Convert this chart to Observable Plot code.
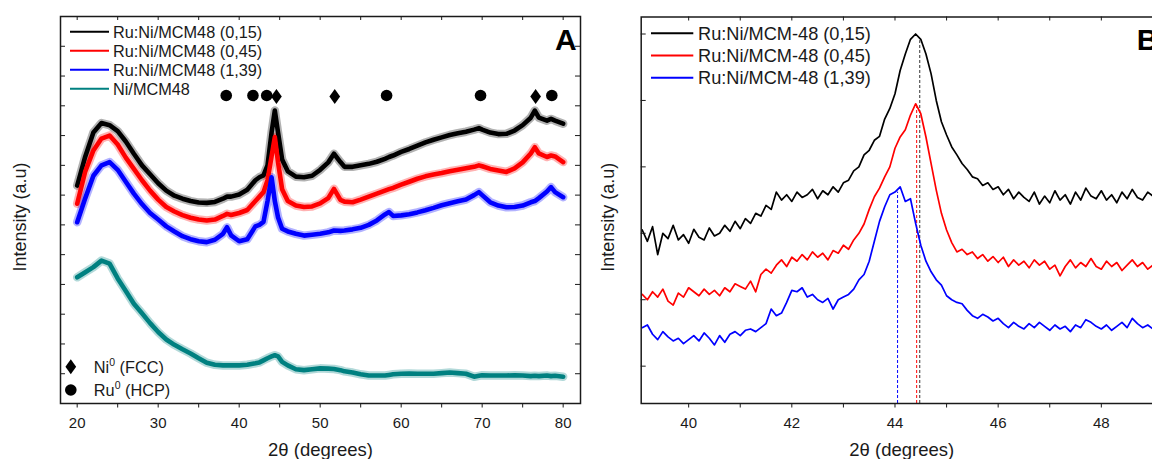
<!DOCTYPE html>
<html><head><meta charset="utf-8">
<script src="https://cdn.jsdelivr.net/npm/d3@7"></script>
<script src="https://cdn.jsdelivr.net/npm/@observablehq/plot@0.6"></script>
<style>
html,body{margin:0;padding:0;background:#fff;overflow:hidden;width:1152px;height:459px;}
#wrap{position:relative;width:1152px;height:459px;overflow:hidden;font-family:Arial,"Liberation Sans",sans-serif;}
.panel{position:absolute;top:0;width:600px;height:459px;}
.panel svg{max-width:none !important;width:600px !important;height:459px !important;}
#overlay{position:absolute;left:0;top:0;pointer-events:none;}
</style>
</head><body>
<div id="wrap"><div id="pa" class="panel" style="left:0"></div><div id="pb" class="panel" style="left:600px"></div></div>
<script>
// ---------- Panel A data (2θ in degrees, intensity in a.u.) ----------
const thetaA = [20,21,22,23,24,25,26,27,28,29,30,31,32,33,34,35,36,37,38,38.5,39,40,41,42,42.5,43,43.5,44,44.4,44.8,45.3,46,47,48,49,50,51,51.7,52.5,53,54,55,56,57,58,58.5,59,60,61,62,63,64,65,66,67,68,69,69.6,70,71,72,73,74,75,76,76.5,77,78,78.5,79,80];
const ruNi015A = [732,830,910,942,935,915,880,839,800,770,740,715,698,688,680,675,674,677,688,695,695,702,718,750,760,766,800,910,984,910,820,780,762,760,765,785,810,839,811,795,795,800,805,812,822,828,833,845,855,866,877,886,894,902,908,913,920,925,920,910,905,906,917,935,960,984,960,950,956,950,940];
const ruNi045A = [671,780,850,890,900,870,826,788,750,715,685,660,645,633,624,618,615,618,630,637,633,640,650,680,695,710,750,830,895,810,720,680,665,660,662,672,690,721,684,678,676,685,695,705,715,720,724,735,745,755,763,769,774,780,785,790,795,800,797,788,783,778,790,810,840,861,840,828,833,830,811];
const ruNi139A = [609,690,765,800,811,785,745,705,670,640,618,595,578,562,552,545,542,550,570,592,565,545,552,595,600,610,680,760,680,625,587,578,570,564,567,570,575,581,580,581,585,590,600,615,635,643,630,632,636,642,649,657,666,673,679,685,700,710,700,676,665,659,660,665,676,680,690,712,727,710,693];
const niA = [424,441,458,480,470,420,378,335,303,270,240,215,197,182,168,152,137,130,128,128,128,128,130,135,138,145,152,158,162,158,140,128,115,112,115,118,117,116,112,108,104,98,94,94,94,96,98,100,101,100,100,100,102,104,102,100,90,93,95,94,94,94,95,94,92,93,92,94,92,93,90];
const seriesNamesA = ["Ru:Ni/MCM48 (0,15)","Ru:Ni/MCM48 (0,45)","Ru:Ni/MCM48 (1,39)","Ni/MCM48"];
const ruPeaksA = [38.4,41.7,43.4,58.2,69.8,78.6];   // Ru0 (HCP)
const niPeaksA = [44.6,51.8,76.6];                   // Ni0 (FCC)
const xMajorA = [20,30,40,50,60,70,80];
const xMinorA = [25,35,45,55,65,75];
const yTicksA = [100,200,300,400,500,600,700,800,900,1000,1100,1200];

// ---------- Panel B data ----------
const thetaB = [39.1,39.2,39.3,39.4,39.5,39.6,39.7,39.8,39.9,40.0,
40.1,40.2,40.3,40.4,40.5,40.6,40.7,40.8,40.9,41.0,
41.1,41.2,41.3,41.4,41.5,41.6,41.7,41.8,41.9,42.0,
42.1,42.2,42.3,42.4,42.5,42.6,42.7,42.8,42.9,43.0,
43.1,43.2,43.3,43.4,43.5,43.6,43.7,43.8,43.9,44.0,
44.1,44.2,44.3,44.4,44.5,44.6,44.7,44.8,44.9,45.0,
45.1,45.2,45.3,45.4,45.5,45.6,45.7,45.8,45.9,46.0,
46.1,46.2,46.3,46.4,46.5,46.6,46.7,46.8,46.9,47.0,
47.1,47.2,47.3,47.4,47.5,47.6,47.7,47.8,47.9,48.0,
48.1,48.2,48.3,48.4,48.5,48.6,48.7,48.8,48.9,49.0,
49.1,49.2];
const ruNi015B = [205,188,210,168,200,192,212,190,198,185,
206,194,190,208,196,200,212,203,218,207,
222,215,230,226,242,236,262,250,258,248,
262,254,258,266,252,264,258,270,262,276,
280,294,300,318,325,340,346,372,388,410,
445,470,492,500,492,470,440,400,368,348,
330,318,305,296,285,282,272,276,266,270,
258,266,252,262,254,248,262,244,256,246,
264,250,258,244,262,250,268,256,252,264,
250,258,246,262,252,266,254,250,262,256,
264,258];
const ruNi045B = [108,100,112,104,116,98,92,110,104,118,
112,106,116,108,114,106,118,112,124,120,
116,128,112,138,146,140,152,160,150,164,
158,168,160,172,164,170,160,174,170,182,
176,190,200,214,236,255,268,285,300,328,
345,356,378,395,380,345,305,265,230,205,
186,172,176,168,172,162,168,158,165,156,
164,150,160,152,158,148,160,152,158,146,
152,136,150,160,148,156,150,162,150,146,
158,150,156,144,152,160,150,156,146,152,
148,154];
const ruNi139B = [58,62,48,40,52,44,38,42,34,40,
46,38,50,42,32,46,36,48,52,46,
54,56,52,58,64,86,76,80,96,114,
112,118,104,108,100,96,102,86,100,104,
108,116,130,138,158,188,218,240,258,262,
270,248,252,215,182,158,142,130,122,106,
100,96,94,84,76,72,78,74,68,72,
64,58,66,60,56,64,58,66,60,54,
62,56,60,52,62,58,70,66,60,56,
62,54,60,66,58,72,64,58,62,56,
64,60];
const seriesNamesB = ["Ru:Ni/MCM-48 (0,15)","Ru:Ni/MCM-48 (0,45)","Ru:Ni/MCM-48 (1,39)"];
const peakPosB = [44.48,44.42,44.05];
const peakTopB = [490,390,262];
const xMajorB = [40,42,44,46,48];
const xMinorB = [41,43,45,47,49];
const yTicksB = [0,100,200,300,400,500];

// ---------- styles ----------
const colorsA = ["#000000","#ff0000","#0000ff","#008080"];
const colorsB = ["#000000","#ff0000","#0000ff"];
const dashColorsB = ["#333333","#ff0000","#0000ff"];
const FONT = "Arial, 'Liberation Sans', sans-serif";
const INK = "#1a1a1a";

// tall diamond symbol (as in the reference figure)
const tallDiamond = {
  draw(context, size) {
    const s = Math.sqrt(size / Math.PI), hh = 1.5 * s, hw = 1.07 * s;
    context.moveTo(0, -hh); context.lineTo(hw, 0); context.lineTo(0, hh); context.lineTo(-hw, 0); context.closePath();
  }
};

const seriesA = [ruNi015A, ruNi045A, ruNi139A, niA];
const tableA = seriesA.map((vals, k) => thetaA.map((t, i) => ({t, v: vals[i], s: seriesNamesA[k]})));
const seriesB = [ruNi015B, ruNi045B, ruNi139B];
const tableB = seriesB.map((vals, k) => thetaB.map((t, i) => ({t, v: vals[i], s: seriesNamesB[k]})));

const frameWA = 520, frameHA = 387;
const yDomA = [0, 1300];
const drawOrderA = [3, 0, 1, 2];

const plotA = Plot.plot({
  width: 600, height: 459,
  marginLeft: 60, marginRight: 20, marginTop: 16, marginBottom: 56,
  style: {fontFamily: FONT, color: INK, background: "transparent", overflow: "visible"},
  x: {domain: [17.94, 82.14]},
  y: {domain: yDomA, axis: null},
  marks: [
    ...drawOrderA.map(k => Plot.line(tableA[k], {x: "t", y: "v", stroke: colorsA[k], strokeWidth: 8.5, strokeOpacity: 0.3, strokeLinejoin: "round"})),
    ...drawOrderA.map(k => Plot.line(tableA[k], {x: "t", y: "v", stroke: colorsA[k], strokeWidth: 4.6, strokeLinejoin: "round"})),
    Plot.dot(ruPeaksA, {x: d => d, frameAnchor: "top", dy: 79, r: 5.8, fill: "#000", stroke: null}),
    Plot.dot(niPeaksA, {x: d => d, frameAnchor: "top", dy: 80, r: 5, symbol: tallDiamond, fill: "#000", stroke: null}),
    Plot.frame({stroke: INK, strokeWidth: 1.5}),
    Plot.axisX({ticks: xMajorA, tickSize: 4.5, tickPadding: 9.5, fontSize: 15, label: null, tickFormat: d => String(d)}),
    Plot.axisX({ticks: xMinorA, tickSize: 4.5, label: null, tickFormat: () => ""}),
    Plot.tickX([...xMajorA, ...xMinorA], {x: d => d, insetBottom: frameHA - 4, stroke: INK}),
    Plot.tickY(yTicksA, {y: d => d, insetRight: frameWA - 5, stroke: INK}),
    Plot.tickY(yTicksA, {y: d => d, insetLeft: frameWA - 5, stroke: INK}),
    Plot.text(["Intensity (a.u)"], {text: d => d, frameAnchor: "left", textAnchor: "middle", rotate: -90, dx: -40, dy: 7, fontSize: 18, fill: INK}),
    Plot.text(["2θ (degrees)"], {text: d => d, frameAnchor: "bottom", textAnchor: "middle", lineAnchor: "middle", dy: 46.5, fontSize: 18.5, fill: INK})
  ]
});
document.getElementById("pa").appendChild(plotA);

const frameWB = 521, frameHB = 386.5;
const yDomB = [-56.2, 525.6];
const plotB = Plot.plot({
  width: 600, height: 459,
  marginLeft: 40.7, marginRight: 38.3, marginTop: 16.5, marginBottom: 56,
  style: {fontFamily: FONT, color: INK, background: "transparent", overflow: "visible"},
  x: {domain: [39.08, 49.18]},
  y: {domain: yDomB, axis: null},
  marks: [
    ...peakPosB.map((p, i) => Plot.ruleX([p], {x: d => d, y1: yDomB[0], y2: peakTopB[i], stroke: dashColorsB[i], strokeWidth: 1, strokeDasharray: "3,2"})),
    ...[0, 1, 2].map(k => Plot.line(tableB[k], {x: "t", y: "v", stroke: colorsB[k], strokeWidth: 1.7, strokeLinejoin: "round"})),
    Plot.frame({stroke: INK, strokeWidth: 1.5}),
    Plot.axisX({ticks: xMajorB, tickSize: 4.5, tickPadding: 9.5, fontSize: 15, label: null, tickFormat: d => String(d)}),
    Plot.axisX({ticks: xMinorB, tickSize: 4.5, label: null, tickFormat: () => ""}),
    Plot.tickX([...xMajorB, ...xMinorB], {x: d => d, insetBottom: frameHB - 4, stroke: INK}),
    Plot.tickY(yTicksB, {y: d => d, insetRight: frameWB - 5, stroke: INK}),
    Plot.text(["Intensity (a.u)"], {text: d => d, frameAnchor: "left", textAnchor: "middle", rotate: -90, dx: -33, dy: 7, fontSize: 18, fill: INK}),
    Plot.text(["2θ (degrees)"], {text: d => d, frameAnchor: "bottom", textAnchor: "middle", lineAnchor: "middle", dy: 46.5, fontSize: 18.5, fill: INK})
  ]
});
document.getElementById("pb").appendChild(plotB);

// ---------- legends and panel letters (overlay) ----------
const svg = d3.select("#wrap").append("svg").attr("id", "overlay").attr("width", 1152).attr("height", 459)
  .style("font-family", FONT);
const legA = svg.append("g");
seriesNamesA.forEach((name, i) => {
  const y = 31.7 + i * 19;
  legA.append("line").attr("x1", 70).attr("x2", 109).attr("y1", y).attr("y2", y).attr("stroke", colorsA[i]).attr("stroke-width", 2);
  legA.append("text").attr("x", 113).attr("y", y).attr("dy", "0.36em").attr("font-size", 16.3).attr("fill", INK).text(name);
});
const legB = svg.append("g");
seriesNamesB.forEach((name, i) => {
  const y = 33.3 + i * 22.2;
  legB.append("line").attr("x1", 651).attr("x2", 693.3).attr("y1", y).attr("y2", y).attr("stroke", colorsB[i]).attr("stroke-width", 2);
  legB.append("text").attr("x", 698).attr("y", y).attr("dy", "0.36em").attr("font-size", 18.2).attr("fill", INK).text(name);
});
// phase symbol legend
const legP = svg.append("g");
legP.append("path").attr("d", "M70.8,359.2L76.15,366.7L70.8,374.2L65.45,366.7Z").attr("fill", "#000");
legP.append("circle").attr("cx", 70.8).attr("cy", 390).attr("r", 5.8).attr("fill", "#000");
const phaseLabels = [["Ni", " (FCC)"], ["Ru", " (HCP)"]];
phaseLabels.forEach(([el, ph], i) => {
  const t = legP.append("text").attr("x", 93.8).attr("y", 372.5 + i * 23.3).attr("font-size", 16.3).attr("fill", INK);
  t.append("tspan").text(el);
  t.append("tspan").attr("dy", -6.5).attr("font-size", 10.5).text("0");
  t.append("tspan").attr("dy", 6.5).text(ph);
});
svg.append("text").attr("x", 555).attr("y", 50).attr("font-size", 30).attr("font-weight", "bold").attr("fill", "#000").text("A");
svg.append("text").attr("x", 1136.7).attr("y", 50).attr("font-size", 30).attr("font-weight", "bold").attr("fill", "#000").text("B");
</script>
</body></html>
